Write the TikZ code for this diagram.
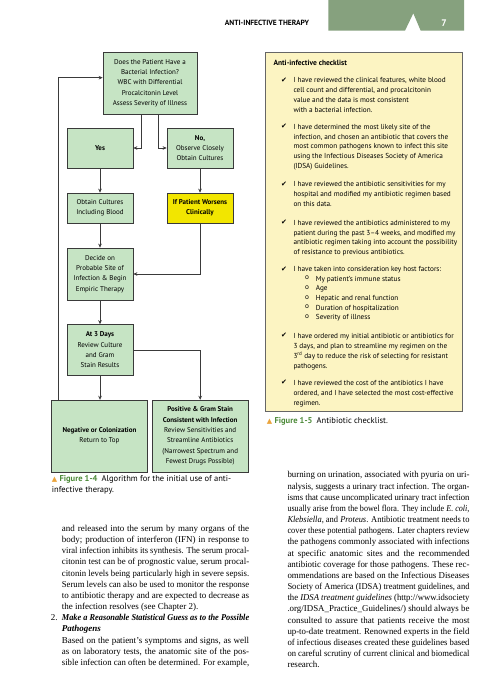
\documentclass[tikz,border=0pt]{standalone}
\usepackage{fontspec}
\usepackage{graphicx}
\setmainfont{Liberation Serif}
\setsansfont{PT Sans}
\newfontfamily\symb{DejaVu Sans}
\usetikzlibrary{arrows.meta}

\definecolor{boxgruen}{HTML}{C6E4C4}
\definecolor{kopfgruen}{HTML}{86A17E}
\definecolor{warngelb}{HTML}{F2E600}
\definecolor{listegelb}{HTML}{FCF4C2}
\definecolor{figgruen}{HTML}{4E8B3A}
\definecolor{figorange}{HTML}{EBA43C}
\definecolor{linie}{HTML}{3A3A3A}

\newcommand{\figmark}{{\color{figorange}\symb\fontsize{7}{7}\selectfont ▲}}

% Blocksatzzeile fester Breite
\newlength{\spalte}
\newsavebox{\zeilebox}
\newcommand{\zeile}[1]{\sbox{\zeilebox}{#1}%
  \ifdim\wd\zeilebox>\spalte\resizebox{\spalte}{\height}{\usebox{\zeilebox}}%
  \else\makebox[\spalte][s]{#1}\fi}

\begin{document}
\begin{tikzpicture}[x=1pt,y=-1pt,
  kasten/.style={draw=linie, line width=0.7pt, fill=boxgruen, align=center, inner sep=1pt,
    font=\sffamily\fontsize{7}{10.3}\selectfont},
  pfeil/.style={draw=linie, line width=0.8pt, -{Stealth[length=4pt,width=3.6pt]}},
  liste/.style={anchor=north west, inner sep=0pt, align=left,
    font=\sffamily\fontsize{7.25}{9.9}\selectfont},
  haken/.style={anchor=north west, inner sep=0pt, font=\symb\fontsize{7}{9.9}\selectfont},
  unterschrift/.style={anchor=north west, inner sep=0pt, align=left,
    font=\sffamily\fontsize{8.5}{11}\selectfont},
  fliesstext/.style={anchor=north west, inner sep=0pt, align=left,
    font=\rmfamily\fontsize{9}{11.17}\selectfont}
]

  % Seite
  \fill[white] (0,0) rectangle (500,700);
  \useasboundingbox (0,0) rectangle (500,700);

  % Kopfzeile
  \fill[kopfgruen] (328.3,0) -- (464,0) -- (464,30.7) -- (420.7,30.7) -- (413.3,13.3)
    -- (405,30.7) -- (328.3,30.7) -- cycle;
  \node[anchor=east, inner sep=0pt, font=\sffamily\bfseries\fontsize{7.5}{9}\selectfont]
    (kopf) at (309.3,23.3) {ANTI-INFECTIVE THERAPY};
  \node[inner sep=0pt, text=white, font=\sffamily\bfseries\fontsize{9.5}{11}\selectfont]
    (seite) at (444,23.3) {7};

  % Flussdiagramm
  \node[kasten, minimum width=94pt, minimum height=62pt] (frage) at (150,83)
    {Does the Patient Have a\\Bacterial Infection?\\WBC with Differential\\Procalcitonin Level\\Assess Severity of Illness};
  \node[kasten, minimum width=66pt, minimum height=40pt] (ja) at (100,148) {\textbf{Yes}};
  \node[kasten, minimum width=66pt, minimum height=40pt] (nein) at (200,148)
    {\textbf{No,}\\Observe Closely\\Obtain Cultures};
  \node[kasten, minimum width=66pt, minimum height=30pt] (kultur) at (100,208)
    {Obtain Cultures\\Including Blood};
  \node[kasten, fill=warngelb, minimum width=66pt, minimum height=30pt] (schlechter) at (200,208)
    {\textbf{If Patient Worsens}\\\textbf{Clinically}};
  \node[kasten, minimum width=66pt, minimum height=52pt] (empir) at (100,274)
    {Decide on\\Probable Site of\\Infection \& Begin\\Empiric Therapy};
  \node[kasten, minimum width=66pt, minimum height=51pt] (tagdrei) at (100,350)
    {\textbf{At 3 Days}\\Review Culture\\and Gram\\Stain Results};
  \node[kasten, minimum width=95.6pt, minimum height=71.7pt] (negativ) at (99.5,436)
    {\textbf{Negative or Colonization}\\Return to Top};
  \node[kasten, minimum width=96.3pt, minimum height=71.7pt] (positiv) at (200.2,436)
    {\textbf{Positive \& Gram Stain}\\\textbf{Consistent with Infection}\\Review Sensitivities and\\Streamline Antibiotics\\(Narrowest Spectrum and\\Fewest Drugs Possible)};

  % Pfeile
  \draw[pfeil] ([xshift=-8.3pt]frage.south) |- (ja.east);
  \draw[pfeil] ([xshift=8.3pt]frage.south) |- (nein.west);
  \draw[pfeil] (ja) -- (kultur);
  \draw[pfeil] (nein) -- (schlechter);
  \draw[pfeil] (kultur) -- (empir);
  \draw[pfeil] (schlechter.south) |- (empir.east);
  \draw[pfeil] (empir) -- (tagdrei);
  \draw[pfeil] (tagdrei.south) -- (tagdrei.south |- negativ.north);
  \draw[pfeil] (tagdrei.east) -| (positiv.north);
  \draw[pfeil] ([xshift=6.6pt]negativ.north west) |- ([yshift=5.3pt]frage.west);

  % Bildunterschrift 1-4
  \node[unterschrift] (fig4) at (51.7,475.5)
    {\figmark\ {\color{figgruen}\bfseries Figure 1-4}\enspace Algorithm for the initial use of anti-\\infective therapy.};

  % Checkliste
  \draw[draw=black!60, line width=0.8pt, fill=listegelb] (265,52) rectangle (462.7,411.7);
  \node[liste, font=\sffamily\bfseries\fontsize{7.5}{9.9}\selectfont] (titel) at (273.3,59.5) {Anti-infective checklist};

  \node[haken] (h1) at (281,77.5) {✔};
  \node[liste] (p1) at (293.3,77.5)
    {I have reviewed the clinical features, white blood\\cell count and differential, and procalcitonin\\value and the data is most consistent\\with a bacterial infection.};
  \node[haken] (h2) at (281,123.8) {✔};
  \node[liste] (p2) at (293.3,123.8)
    {I have determined the most likely site of the\\infection, and chosen an antibiotic that covers the\\most common pathogens known to infect this site\\using the Infectious Diseases Society of America\\(IDSA) Guidelines.};
  \node[haken] (h3) at (281,181.5) {✔};
  \node[liste] (p3) at (293.3,181.5)
    {I have reviewed the antibiotic sensitivities for my\\hospital and modified my antibiotic regimen based\\on this data.};
  \node[haken] (h4) at (281,219.8) {✔};
  \node[liste] (p4) at (293.3,219.8)
    {I have reviewed the antibiotics administered to my\\patient during the past 3–4 weeks, and modified my\\antibiotic regimen taking into account the possibility\\of resistance to previous antibiotics.};
  \node[haken] (h5) at (281,266.5) {✔};
  \node[liste] (p5) at (293.3,266.5) {I have taken into consideration key host factors:};
  \node[liste, font=\sffamily\fontsize{7.25}{9.7}\selectfont] (o5) at (305,275.8) {o\\o\\o\\o\\o};
  \node[liste, font=\sffamily\fontsize{7.25}{9.7}\selectfont] (f5) at (315.7,275.8)
    {My patient’s immune status\\Age\\Hepatic and renal function\\Duration of hospitalization\\Severity of illness};
  \node[haken] (h6) at (281,333.2) {✔};
  \node[liste] (p6) at (293.3,333.2)
    {I have ordered my initial antibiotic or antibiotics for\\3 days, and plan to streamline my regimen on the\\3\textsuperscript{rd} day to reduce the risk of selecting for resistant\\pathogens.};
  \node[haken] (h7) at (281,380.2) {✔};
  \node[liste] (p7) at (293.3,380.2)
    {I have reviewed the cost of the antibiotics I have\\ordered, and I have selected the most cost-effective\\regimen.};

  % Bildunterschrift 1-5
  \node[unterschrift] (fig5) at (266.7,417.5)
    {\figmark\ {\color{figgruen}\bfseries Figure 1-5}\enspace Antibiotic checklist.};

  % Fliesstext links
  \setlength{\spalte}{187.3pt}
  \node[fliesstext] (links) at (61.7,524.8)
    {\zeile{and released into the serum by many organs of the}\\
     \zeile{body; production of interferon (IFN) in response to}\\
     \zeile{viral infection inhibits its synthesis. The serum procal-}\\
     \zeile{citonin test can be of prognostic value, serum procal-}\\
     \zeile{citonin levels being particularly high in severe sepsis.}\\
     \zeile{Serum levels can also be used to monitor the response}\\
     \zeile{to antibiotic therapy and are expected to decrease as}\\
     the infection resolves (see Chapter 2).\\
     \zeile{\bfseries\itshape Make a Reasonable Statistical Guess as to the Possible}\\
     \textbf{\textit{Pathogens}}\\
     \zeile{Based on the patient’s symptoms and signs, as well}\\
     \zeile{as on laboratory tests, the anatomic site of the pos-}\\
     \zeile{sible infection can often be determined. For example,}};
  \node[anchor=north west, inner sep=0pt, font=\rmfamily\fontsize{9}{11.17}\selectfont]
    (zwei) at (50.7,614.1) {2.};

  % Fliesstext rechts
  \setlength{\spalte}{182pt}
  \node[fliesstext] (rechts) at (287.3,471.5)
    {\zeile{burning on urination, associated with pyuria on uri-}\\
     \zeile{nalysis, suggests a urinary tract infection. The organ-}\\
     \zeile{isms that cause uncomplicated urinary tract infection}\\
     \zeile{usually arise from the bowel flora. They include \textit{E. coli},}\\
     \zeile{\textit{Klebsiella}, and \textit{Proteus}. Antibiotic treatment needs to}\\
     \zeile{cover these potential pathogens. Later chapters review}\\
     \zeile{the pathogens commonly associated with infections}\\
     \zeile{at specific anatomic sites and the recommended}\\
     \zeile{antibiotic coverage for those pathogens. These rec-}\\
     \zeile{ommendations are based on the Infectious Diseases}\\
     \zeile{Society of America (IDSA) treatment guidelines, and}\\
     \zeile{the \textit{IDSA treatment guidelines} (http://www.idsociety}\\
     \zeile{.org/IDSA\_Practice\_Guidelines/) should always be}\\
     \zeile{consulted to assure that patients receive the most}\\
     \zeile{up-to-date treatment. Renowned experts in the field}\\
     \zeile{of infectious diseases created these guidelines based}\\
     \zeile{on careful scrutiny of current clinical and biomedical}\\
     research.};

\end{tikzpicture}
\end{document}
